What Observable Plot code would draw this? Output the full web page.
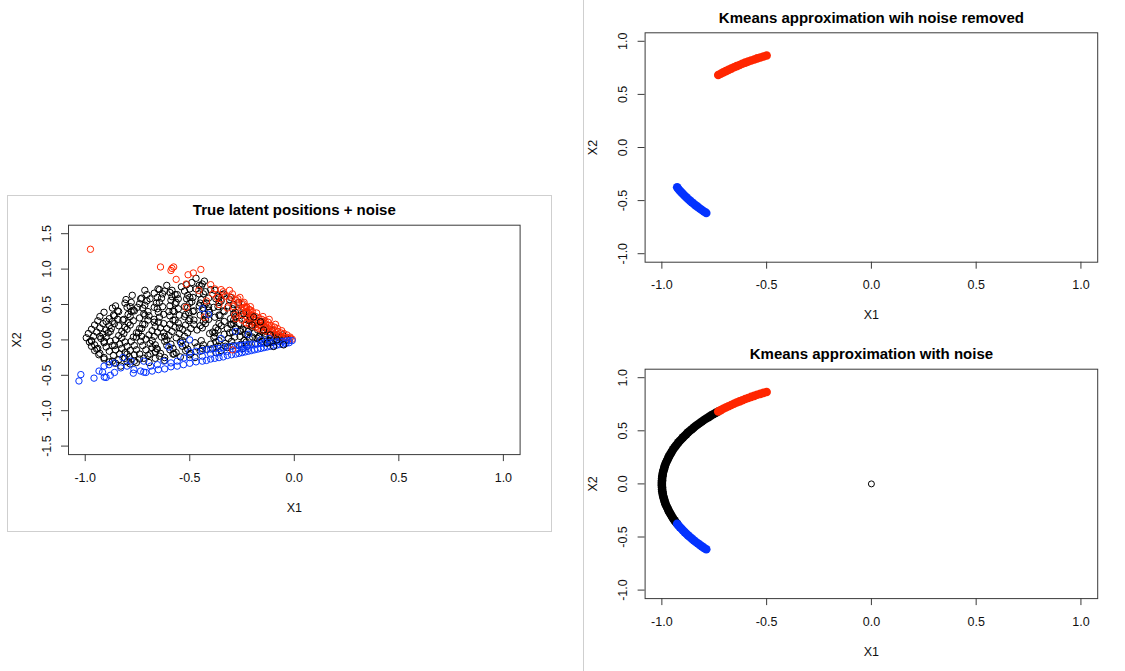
<!DOCTYPE html>
<html><head><meta charset="utf-8">
<script src="https://cdn.jsdelivr.net/npm/d3@7"></script>
<script src="https://cdn.jsdelivr.net/npm/@observablehq/plot@0.6"></script>
<style>
html,body{margin:0;padding:0;background:#fff;}
#root{position:relative;width:1125px;height:671px;overflow:hidden;background:#fff;}
#left{position:absolute;left:7px;top:195px;width:545px;height:337px;border:1px solid #cfcfcf;box-sizing:border-box;}
#divider{position:absolute;left:583px;top:0;width:1px;height:671px;background:#cfcfcf;}
#rt{position:absolute;left:585px;top:0;}
#rb{position:absolute;left:585px;top:335px;}
svg{display:block;}
</style></head><body>
<div id="root"><div id="left"></div><div id="divider"></div><div id="rt"></div><div id="rb"></div></div>
<script>
// ---------- data ----------
const xTicks = [-1, -0.5, 0, 0.5, 1];
const yTicksLeft = [-1.5, -1, -0.5, 0, 0.5, 1, 1.5];
const yTicksRight = [-1, -0.5, 0, 0.5, 1];
const titles = ["True latent positions + noise", "Kmeans approximation wih noise removed", "Kmeans approximation with noise"];

// left panel: noisy latent positions
const redCore = [[-0.01,0.01],[-0.02,0.02],[-0.02,0.04],[-0.035,0.03],[-0.035,0.07],[-0.05,0.04],[-0.05,0.09],[-0.065,0.05],[-0.065,0.1],[-0.06,0.13],[-0.08,0.07],[-0.08,0.12],[-0.08,0.16],[-0.095,0.08],[-0.095,0.13],[-0.095,0.18],[-0.09,0.22],[-0.11,0.1],[-0.11,0.15],[-0.11,0.2],[-0.125,0.11],[-0.125,0.16],[-0.125,0.21],[-0.125,0.25],[-0.12,0.29],[-0.14,0.13],[-0.14,0.18],[-0.14,0.23],[-0.14,0.27],[-0.155,0.14],[-0.155,0.19],[-0.155,0.24],[-0.155,0.29],[-0.15,0.33],[-0.17,0.16],[-0.17,0.21],[-0.17,0.26],[-0.17,0.31],[-0.185,0.18],[-0.185,0.23],[-0.185,0.28],[-0.185,0.33],[-0.18,0.38],[-0.2,0.2],[-0.2,0.25],[-0.2,0.3],[-0.2,0.35],[-0.2,0.4],[-0.215,0.22],[-0.215,0.3],[-0.215,0.37],[-0.215,0.43],[-0.21,0.47],[-0.23,0.24],[-0.23,0.33],[-0.23,0.4],[-0.23,0.47],[-0.25,0.28],[-0.25,0.36],[-0.25,0.44],[-0.25,0.5],[-0.24,0.53]];
const redOuter = [[-0.975,1.28],[-0.64,1.03],[-0.585,1.01],[-0.577,1.03],[-0.59,0.98],[-0.447,0.995],[-0.565,0.855],[-0.508,0.92],[-0.483,0.945],[-0.517,0.79],[-0.40,0.78],[-0.457,0.70],[-0.35,0.71],[-0.39,0.65],[-0.31,0.70],[-0.296,0.65],[-0.278,0.56],[-0.244,0.51],[-0.227,0.46],[-0.21,0.42],[-0.517,0.46],[-0.43,0.32],[-0.286,0.35],[-0.296,-0.14],[-0.27,0.58],[-0.29,0.47],[-0.31,0.55],[-0.33,0.62],[-0.35,0.58],[-0.37,0.6],[-0.34,0.68],[-0.32,0.45],[-0.26,0.4],[-0.28,0.3],[-0.36,0.5],[-0.42,0.55],[-0.38,0.72],[-0.3,0.6],[-0.27,0.52],[-0.24,0.46],[-0.22,0.38],[-0.26,0.6]];
const blueCore = [[-0.01,-0.01],[-0.025,-0.01],[-0.025,-0.04],[-0.04,-0.015],[-0.04,-0.05],[-0.055,-0.02],[-0.055,-0.06],[-0.07,-0.02],[-0.07,-0.065],[-0.085,-0.03],[-0.085,-0.075],[-0.1,-0.03],[-0.1,-0.085],[-0.115,-0.035],[-0.115,-0.09],[-0.13,-0.04],[-0.13,-0.1],[-0.145,-0.045],[-0.145,-0.11],[-0.16,-0.05],[-0.16,-0.12],[-0.175,-0.055],[-0.175,-0.13],[-0.19,-0.06],[-0.19,-0.14],[-0.205,-0.06],[-0.205,-0.15],[-0.22,-0.065],[-0.22,-0.12],[-0.22,-0.16],[-0.235,-0.07],[-0.235,-0.17],[-0.25,-0.075],[-0.25,-0.13],[-0.25,-0.18],[-0.265,-0.08],[-0.265,-0.19],[-0.28,-0.085],[-0.28,-0.14],[-0.28,-0.2],[-0.3,-0.09],[-0.3,-0.21],[-0.32,-0.1],[-0.32,-0.16],[-0.32,-0.22],[-0.34,-0.11],[-0.34,-0.24],[-0.36,-0.12],[-0.36,-0.18],[-0.36,-0.25],[-0.38,-0.12],[-0.38,-0.26],[-0.4,-0.13],[-0.4,-0.2],[-0.4,-0.27],[-0.42,-0.14],[-0.42,-0.29],[-0.44,-0.15],[-0.44,-0.23],[-0.44,-0.3],[-0.47,-0.16],[-0.47,-0.31],[-0.5,-0.17],[-0.5,-0.25],[-0.5,-0.33]];
const blueOuter = [[-1.021,-0.49],[-1.03,-0.58],[-0.958,-0.54],[-0.934,-0.44],[-0.91,-0.37],[-0.886,-0.35],[-0.863,-0.325],[-0.83,-0.395],[-0.80,-0.37],[-0.767,-0.42],[-0.735,-0.44],[-0.687,-0.37],[-0.655,-0.35],[-0.624,-0.30],[-0.59,-0.325],[-0.56,-0.30],[-0.528,-0.255],[-0.53,-0.35],[-0.56,-0.37],[-0.59,-0.38],[-0.62,-0.41],[-0.65,-0.42],[-0.68,-0.44],[-0.71,-0.46],[-0.72,-0.456],[-0.77,-0.47],[-0.86,-0.46],[-0.88,-0.5],[-0.9,-0.53],[-0.909,-0.525],[-0.917,-0.456],[-0.44,0.44],[-0.41,0.36],[-0.28,0.12],[-0.22,0.08],[-0.5,0.0],[-0.54,-0.05],[-0.6,-0.1],[-0.72,-0.3],[-0.78,-0.3],[-0.82,-0.25],[-0.35,0.02],[-0.16,0.0],[-0.12,0.02]];
const blackPts = [
[-0.49,0.81],[-0.455,0.77],[-0.43,0.83],[-0.47,0.87],[-0.44,0.79],
[-0.652,0.72],[-0.61,0.77],[-0.585,0.70],[-0.54,0.75],[-0.515,0.78],[-0.47,0.72],[-0.445,0.76],[-0.40,0.71],
[-0.715,0.70],[-0.67,0.66],[-0.645,0.71],[-0.595,0.67],[-0.57,0.64],[-0.525,0.69],[-0.50,0.72],[-0.455,0.65],[-0.425,0.68],[-0.38,0.70],
[-0.775,0.63],[-0.73,0.59],[-0.705,0.64],[-0.655,0.60],[-0.63,0.65],[-0.585,0.61],[-0.555,0.58],[-0.51,0.63],[-0.485,0.60],[-0.435,0.65],[-0.41,0.59],[-0.365,0.62],[-0.345,0.64],
[-0.805,0.57],[-0.78,0.53],[-0.735,0.58],[-0.705,0.55],[-0.66,0.52],[-0.635,0.59],[-0.59,0.56],[-0.565,0.53],[-0.515,0.58],[-0.49,0.54],[-0.445,0.57],[-0.42,0.52],[-0.375,0.58],[-0.35,0.55],[-0.31,0.57],
[-0.855,0.48],[-0.81,0.52],[-0.785,0.47],[-0.74,0.51],[-0.715,0.49],[-0.67,0.46],[-0.645,0.53],[-0.595,0.48],[-0.57,0.51],[-0.525,0.47],[-0.50,0.52],[-0.455,0.48],[-0.43,0.50],[-0.385,0.46],[-0.36,0.53],[-0.315,0.48],[-0.29,0.50],
[-0.87,0.45],[-0.845,0.41],[-0.80,0.46],[-0.77,0.42],[-0.725,0.45],[-0.70,0.40],[-0.655,0.44],[-0.63,0.47],[-0.58,0.41],[-0.555,0.44],[-0.51,0.46],[-0.485,0.40],[-0.435,0.45],[-0.41,0.42],[-0.365,0.47],[-0.34,0.41],[-0.295,0.44],[-0.27,0.42],
[-0.91,0.39],[-0.865,0.35],[-0.84,0.40],[-0.795,0.36],[-0.765,0.41],[-0.72,0.37],[-0.695,0.34],[-0.65,0.39],[-0.625,0.36],[-0.575,0.40],[-0.55,0.35],[-0.505,0.38],[-0.48,0.41],[-0.43,0.36],[-0.405,0.39],[-0.36,0.35],[-0.335,0.40],[-0.29,0.37],[-0.265,0.34],[-0.23,0.39],
[-0.93,0.33],[-0.885,0.30],[-0.86,0.34],[-0.815,0.29],[-0.785,0.33],[-0.74,0.31],[-0.715,0.35],[-0.67,0.29],[-0.645,0.32],[-0.595,0.34],[-0.57,0.28],[-0.525,0.33],[-0.50,0.30],[-0.45,0.35],[-0.425,0.29],[-0.38,0.32],[-0.355,0.34],[-0.305,0.30],[-0.28,0.33],[-0.235,0.29],[-0.21,0.32],
[-0.94,0.27],[-0.915,0.23],[-0.87,0.26],[-0.845,0.29],[-0.795,0.24],[-0.77,0.27],[-0.725,0.22],[-0.70,0.28],[-0.65,0.25],[-0.625,0.23],[-0.58,0.28],[-0.555,0.24],[-0.505,0.27],[-0.48,0.22],[-0.435,0.26],[-0.41,0.29],[-0.36,0.23],[-0.335,0.26],[-0.29,0.28],[-0.265,0.23],[-0.215,0.27],[-0.19,0.24],[-0.155,0.26],
[-0.955,0.21],[-0.93,0.17],[-0.885,0.20],[-0.86,0.23],[-0.81,0.18],[-0.785,0.21],[-0.74,0.16],[-0.715,0.22],[-0.665,0.19],[-0.64,0.17],[-0.595,0.22],[-0.57,0.18],[-0.52,0.21],[-0.495,0.16],[-0.45,0.20],[-0.425,0.23],[-0.375,0.17],[-0.35,0.20],[-0.305,0.22],[-0.28,0.17],[-0.23,0.21],[-0.205,0.18],[-0.16,0.20],[-0.14,0.17],
[-0.97,0.15],[-0.945,0.11],[-0.90,0.14],[-0.875,0.16],[-0.825,0.12],[-0.80,0.15],[-0.755,0.10],[-0.73,0.16],[-0.68,0.13],[-0.655,0.11],[-0.61,0.16],[-0.585,0.12],[-0.535,0.15],[-0.51,0.10],[-0.465,0.14],[-0.44,0.17],[-0.39,0.11],[-0.365,0.14],[-0.32,0.16],[-0.295,0.11],[-0.245,0.15],[-0.22,0.12],[-0.175,0.14],[-0.15,0.11],[-0.105,0.13],
[-0.985,0.09],[-0.96,0.05],[-0.915,0.08],[-0.89,0.10],[-0.84,0.06],[-0.815,0.09],[-0.77,0.04],[-0.745,0.10],[-0.695,0.07],[-0.67,0.05],[-0.625,0.10],[-0.60,0.06],[-0.55,0.09],[-0.525,0.05],[-0.405,0.09],[-0.38,0.05],[-0.335,0.08],[-0.31,0.10],[-0.26,0.05],[-0.235,0.08],[-0.19,0.10],[-0.165,0.05],[-0.115,0.08],[-0.09,0.06],[-0.055,0.07],
[-0.995,0.03],[-0.97,-0.01],[-0.925,0.02],[-0.90,0.04],[-0.855,0.00],[-0.825,0.03],[-0.78,-0.02],[-0.755,0.04],[-0.71,0.01],[-0.68,-0.01],[-0.635,0.04],[-0.61,0.00],[-0.565,0.03],[-0.535,-0.01],[-0.385,0.03],[-0.36,-0.01],[-0.315,0.02],[-0.285,0.04],[-0.24,-0.01],[-0.215,0.02],[-0.17,0.04],[-0.14,0.00],[-0.095,0.02],[-0.07,0.04],[-0.035,0.01],
[-0.98,-0.03],[-0.955,-0.07],[-0.91,-0.04],[-0.88,-0.02],[-0.835,-0.06],[-0.81,-0.03],[-0.765,-0.08],[-0.735,-0.02],[-0.69,-0.05],[-0.665,-0.07],[-0.62,-0.02],[-0.59,-0.06],[-0.545,-0.03],[-0.52,-0.07],[-0.475,-0.04],[-0.445,-0.01],[-0.40,-0.06],[-0.375,-0.03],[-0.33,-0.05],[-0.30,-0.02],[-0.255,-0.06],[-0.23,-0.03],[-0.185,-0.05],[-0.155,-0.02],[-0.11,-0.04],
[-0.97,-0.09],[-0.945,-0.13],[-0.90,-0.10],[-0.87,-0.08],[-0.825,-0.12],[-0.80,-0.09],[-0.755,-0.14],[-0.725,-0.08],[-0.68,-0.11],[-0.655,-0.13],[-0.61,-0.08],[-0.58,-0.12],[-0.535,-0.09],[-0.51,-0.13],[-0.465,-0.10],[-0.435,-0.07],[-0.39,-0.12],[-0.365,-0.09],[-0.32,-0.11],[-0.29,-0.08],[-0.245,-0.12],[-0.225,-0.09],
[-0.955,-0.15],[-0.93,-0.19],[-0.885,-0.16],[-0.855,-0.14],[-0.81,-0.18],[-0.785,-0.15],[-0.74,-0.20],[-0.71,-0.14],[-0.665,-0.17],[-0.64,-0.19],[-0.595,-0.14],[-0.565,-0.18],[-0.52,-0.15],[-0.495,-0.19],[-0.45,-0.16],[-0.42,-0.13],[-0.375,-0.18],[-0.35,-0.15],
[-0.935,-0.21],[-0.91,-0.25],[-0.865,-0.22],[-0.835,-0.20],[-0.79,-0.24],[-0.765,-0.21],[-0.72,-0.26],[-0.69,-0.20],[-0.645,-0.23],[-0.62,-0.25],[-0.575,-0.20],[-0.545,-0.24],[-0.50,-0.21],[-0.475,-0.25],
[-0.91,-0.27],[-0.885,-0.31],[-0.84,-0.28],[-0.81,-0.26],[-0.765,-0.30],[-0.74,-0.27],[-0.695,-0.32],[-0.665,-0.26],[-0.62,-0.29],
[-0.855,-0.33],[-0.83,-0.37],[-0.785,-0.34],[-0.755,-0.32],[-0.80,-0.31],
[-0.93,0.05],[-0.91,-0.02],[-0.88,0.12],[-0.86,-0.08],[-0.94,-0.12],[-0.82,0.28],[-0.75,0.46],[-0.69,0.58],[-0.62,0.69],[-0.56,0.64],[-0.5,0.6],[-0.45,0.52],[-0.52,0.36],[-0.6,0.4],[-0.67,0.25],[-0.73,0.05],[-0.66,-0.12],[-0.58,-0.2],[-0.44,-0.12],[-0.38,0.1],[-0.3,0.22],[-0.26,0.12],[-0.2,0.04],[-0.14,0.06],[-0.12,-0.02],[-0.08,0.04],[-0.05,0.02],[-0.33,-0.09],[-0.48,0.28],[-0.41,0.47],[-0.36,0.6],[-0.78,0.4],[-0.84,0.2],[-0.9,0.26],[-0.97,-0.02],[-0.55,0.17],[-0.62,0.05],[-0.7,-0.22],[-0.8,-0.2],[-0.87,-0.3]
];
// black circles that lie on top of the red/blue wedges near the origin
const blackOver = [[-0.337,0.65],[-0.305,0.60],[-0.266,0.53],[-0.282,0.39],[-0.242,0.37],[-0.194,0.325],[-0.162,0.255],[-0.202,0.21],[-0.147,0.14],[-0.115,0.07],[-0.083,0.0],[-0.13,-0.046],[-0.099,-0.093],[-0.051,-0.07],[-0.178,0.024],[-0.258,0.14],[-0.226,0.07],[-0.29,0.23]];

// right panels: cluster assignments along the arc
const redArc = [[-0.500,0.866],[-0.515,0.857],[-0.530,0.848],[-0.545,0.839],[-0.559,0.829],[-0.574,0.819],[-0.588,0.809],[-0.602,0.799],[-0.616,0.788],[-0.629,0.777],[-0.643,0.766],[-0.656,0.755],[-0.669,0.743],[-0.682,0.731],[-0.695,0.719],[-0.707,0.707],[-0.719,0.695],[-0.731,0.682]];
const blackArc = [[-0.731,0.682],[-0.743,0.669],[-0.755,0.656],[-0.766,0.643],[-0.777,0.629],[-0.788,0.616],[-0.799,0.602],[-0.809,0.588],[-0.819,0.574],[-0.829,0.559],[-0.839,0.545],[-0.848,0.530],[-0.857,0.515],[-0.866,0.500],[-0.875,0.485],[-0.883,0.469],[-0.891,0.454],[-0.899,0.438],[-0.906,0.423],[-0.914,0.407],[-0.921,0.391],[-0.927,0.375],[-0.934,0.358],[-0.940,0.342],[-0.946,0.326],[-0.951,0.309],[-0.956,0.292],[-0.961,0.276],[-0.966,0.259],[-0.970,0.242],[-0.974,0.225],[-0.978,0.208],[-0.982,0.191],[-0.985,0.174],[-0.988,0.156],[-0.990,0.139],[-0.993,0.122],[-0.995,0.105],[-0.996,0.087],[-0.998,0.070],[-0.999,0.052],[-0.999,0.035],[-1.000,0.017],[-1.000,0.000],[-1.000,-0.017],[-0.999,-0.035],[-0.999,-0.052],[-0.998,-0.070],[-0.996,-0.087],[-0.995,-0.105],[-0.993,-0.122],[-0.990,-0.139],[-0.988,-0.156],[-0.985,-0.174],[-0.982,-0.191],[-0.978,-0.208],[-0.974,-0.225],[-0.970,-0.242],[-0.966,-0.259],[-0.961,-0.276],[-0.956,-0.292],[-0.951,-0.309],[-0.946,-0.326],[-0.940,-0.342],[-0.934,-0.358],[-0.927,-0.375]];
const blueArc = [[-0.927,-0.375],[-0.921,-0.391],[-0.914,-0.407],[-0.906,-0.423],[-0.899,-0.438],[-0.891,-0.454],[-0.883,-0.469],[-0.875,-0.485],[-0.866,-0.500],[-0.857,-0.515],[-0.848,-0.530],[-0.839,-0.545],[-0.829,-0.559],[-0.819,-0.574],[-0.809,-0.588],[-0.799,-0.602],[-0.788,-0.616]];
const noisePoint = [[0, 0]];

// ---------- drawing ----------
const RED = "#ff2600", BLUE = "#0433ff", BLACK = "#000";
const AXIS = "#3a3a3a";
const FONT = '"Liberation Sans", Arial, Helvetica, sans-serif';
const fmt = d => d.toFixed(1);
const px = d => d[0], py = d => d[1];
const TICK_FS = 12.5;

function panel({width, height, mt, mr, mb, ml, yDomain, yTicks, title, marks}) {
  return Plot.plot({
    width, height,
    marginTop: mt, marginRight: mr, marginBottom: mb, marginLeft: ml,
    x: {domain: [-1.08, 1.08], axis: null},
    y: {domain: yDomain, axis: null},
    style: {fontFamily: FONT, fontSize: "12px", background: "transparent", color: "#000", overflow: "visible"},
    marks: [
      ...marks,
      Plot.frame({stroke: AXIS, strokeWidth: 1}),
      Plot.axisX(xTicks, {tickSize: 7, stroke: AXIS, fill: "none", label: null}),
      Plot.axisY(yTicks, {tickSize: 7, stroke: AXIS, fill: "none", label: null}),
      Plot.text(xTicks, {x: d => d, text: fmt, frameAnchor: "bottom", lineAnchor: "middle", dy: 23, fontSize: TICK_FS, fill: "#111"}),
      Plot.text(yTicks, {y: d => d, text: fmt, frameAnchor: "left", lineAnchor: "middle", textAnchor: "middle", dx: -22, rotate: -90, fontSize: TICK_FS, fill: "#111"}),
      Plot.text([title], {text: d => d, frameAnchor: "top", lineAnchor: "middle", dy: -15, fontSize: 15, fontWeight: "bold", fill: "#000"}),
      Plot.text(["X1"], {text: d => d, frameAnchor: "bottom", lineAnchor: "middle", dy: 53, fontSize: TICK_FS, fill: "#111"}),
      Plot.text(["X2"], {text: d => d, frameAnchor: "left", lineAnchor: "middle", textAnchor: "middle", dx: -52, rotate: -90, fontSize: TICK_FS, fill: "#111"})
    ]
  });
}

const openDot = (data, color) => Plot.dot(data, {x: px, y: py, r: 3.2, stroke: color, strokeWidth: 1, fill: "none"});
const arcDot = (data, color) => Plot.dot(data, {x: px, y: py, r: 4.3, fill: color, stroke: "none"});

document.getElementById("left").appendChild(panel({
  width: 543, height: 335, mt: 28.7, mr: 31.4, mb: 76.9, ml: 60,
  yDomain: [-1.62, 1.62], yTicks: yTicksLeft, title: titles[0],
  marks: [openDot(blackPts, BLACK), openDot(redCore, RED), openDot(blueCore, BLUE), openDot(blackOver, BLACK), openDot(redOuter, RED), openDot(blueOuter, BLUE)]
}));

document.getElementById("rt").appendChild(panel({
  width: 540, height: 335, mt: 32.3, mr: 27.8, mb: 73.3, ml: 59.6,
  yDomain: [-1.08, 1.08], yTicks: yTicksRight, title: titles[1],
  marks: [arcDot(redArc, RED), arcDot(blueArc, BLUE)]
}));

document.getElementById("rb").appendChild(panel({
  width: 540, height: 336, mt: 33.7, mr: 27.8, mb: 72.9, ml: 59.6,
  yDomain: [-1.08, 1.08], yTicks: yTicksRight, title: titles[2],
  marks: [arcDot(blackArc, BLACK), arcDot(redArc, RED), arcDot(blueArc, BLUE),
          Plot.dot(noisePoint, {x: px, y: py, r: 3, stroke: BLACK, strokeWidth: 1, fill: "none"})]
}));
</script></body></html>
